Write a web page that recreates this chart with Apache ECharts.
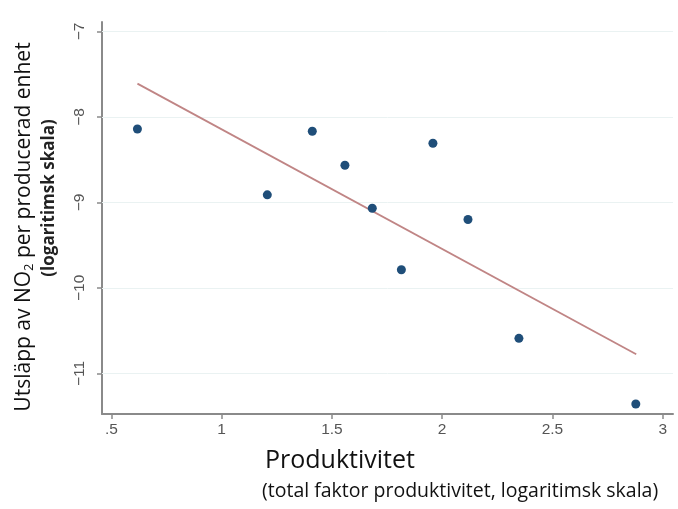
<!DOCTYPE html>
<html>
<head>
<meta charset="utf-8">
<script src="https://cdn.jsdelivr.net/npm/echarts@6/dist/echarts.min.js"></script>
<style>
  html, body { margin: 0; padding: 0; background: #fff; }
  #chart { width: 678px; height: 509px; }
</style>
</head>
<body>
<div id="chart"></div>
<script>
// Total factor productivity (log) per observation
const productivity = [0.618, 1.207, 1.411, 1.559, 1.683, 1.815, 1.958, 2.117, 2.348, 2.878];
// NO2 emissions per produced unit (log)
const emissions = [-8.141, -8.912, -8.168, -8.565, -9.068, -9.788, -8.308, -9.200, -10.590, -11.358];
// Fitted linear trend, start and end
const fitX = [0.618, 2.880];
const fitY = [-7.611, -10.777];
// Axis tick values
const xTicks = [0.5, 1, 1.5, 2, 2.5, 3];
const yTicks = [-7, -8, -9, -10, -11];

const points = productivity.map((x, i) => [x, emissions[i]]);
const fitLine = fitX.map((x, i) => [x, fitY[i]]);

const chart = echarts.init(document.getElementById('chart'), null, { renderer: 'canvas' });

const axisGray = '#8a8a8a';
const labelGray = '#555555';

chart.setOption({
  animation: false,
  backgroundColor: '#ffffff',
  grid: { left: 102, right: 5, top: 22, bottom: 95, containLabel: false },
  xAxis: {
    type: 'value',
    min: 0.4574,
    max: 3.0467,
    axisLine: { show: true, lineStyle: { color: axisGray, width: 2 } },
    axisTick: { show: true, length: 5, lineStyle: { color: axisGray, width: 1.5 }, customValues: xTicks },
    axisLabel: {
      customValues: xTicks,
      margin: 8,
      color: labelGray,
      fontFamily: 'Liberation Sans, Arial, sans-serif',
      fontSize: 15.5,
      formatter: v => (v === 0.5 ? '.5' : String(v))
    },
    splitLine: { show: false }
  },
  yAxis: {
    type: 'value',
    min: -11.475,
    max: -6.89,
    axisLine: { show: true, lineStyle: { color: axisGray, width: 2 } },
    axisTick: { show: true, length: 5, lineStyle: { color: axisGray, width: 1.5 }, customValues: yTicks },
    axisLabel: {
      customValues: yTicks,
      rotate: 90,
      margin: 14,
      color: labelGray,
      fontFamily: 'Liberation Sans, Arial, sans-serif',
      fontSize: 15.5,
      formatter: v => String(v).replace('-', '\u2212')
    },
    splitLine: { show: false }
  },
  series: [
    {
      type: 'scatter',
      data: points,
      symbol: 'circle',
      symbolSize: 9,
      itemStyle: { color: '#1f4e79', opacity: 1 },
      z: 4,
      markLine: {
        silent: true,
        z: 1,
        symbol: ['none', 'none'],
        label: { show: false },
        lineStyle: { color: '#eaf2f2', width: 1, type: 'solid' },
        data: yTicks.map(v => ({ yAxis: v }))
      }
    },
    {
      type: 'line',
      data: fitLine,
      showSymbol: false,
      symbol: 'none',
      lineStyle: { color: '#c08585', width: 1.8 },
      z: 3
    }
  ],
  graphic: [
    {
      type: 'text',
      x: 24, y: 227,
      rotation: Math.PI / 2,
      style: {
        text: 'Utsläpp av NO{sub|2} per producerad enhet',
        rich: { sub: { fontSize: 13, padding: [10, 0, 0, 0], fontFamily: 'Open Sans', fill: '#111' } },
        fontFamily: 'Open Sans',
        fontSize: 21,
        fill: '#111',
        align: 'center',
        verticalAlign: 'middle'
      }
    },
    {
      type: 'text',
      x: 49, y: 198,
      rotation: Math.PI / 2,
      style: {
        text: '(logaritimsk skala)',
        fontFamily: 'Open Sans',
        fontWeight: 'bold',
        fontSize: 17,
        fill: '#222',
        align: 'center',
        verticalAlign: 'middle'
      }
    },
    {
      type: 'text',
      left: 265, top: 448,
      style: {
        text: 'Produktivitet',
        fontFamily: 'Open Sans',
        fontSize: 25,
        fill: '#111'
      }
    },
    {
      type: 'text',
      left: 262, top: 481,
      style: {
        text: '(total faktor produktivitet, logaritimsk skala)',
        fontFamily: 'Open Sans',
        fontSize: 19.5,
        fill: '#111'
      }
    }
  ]
});
</script>
</body>
</html>
